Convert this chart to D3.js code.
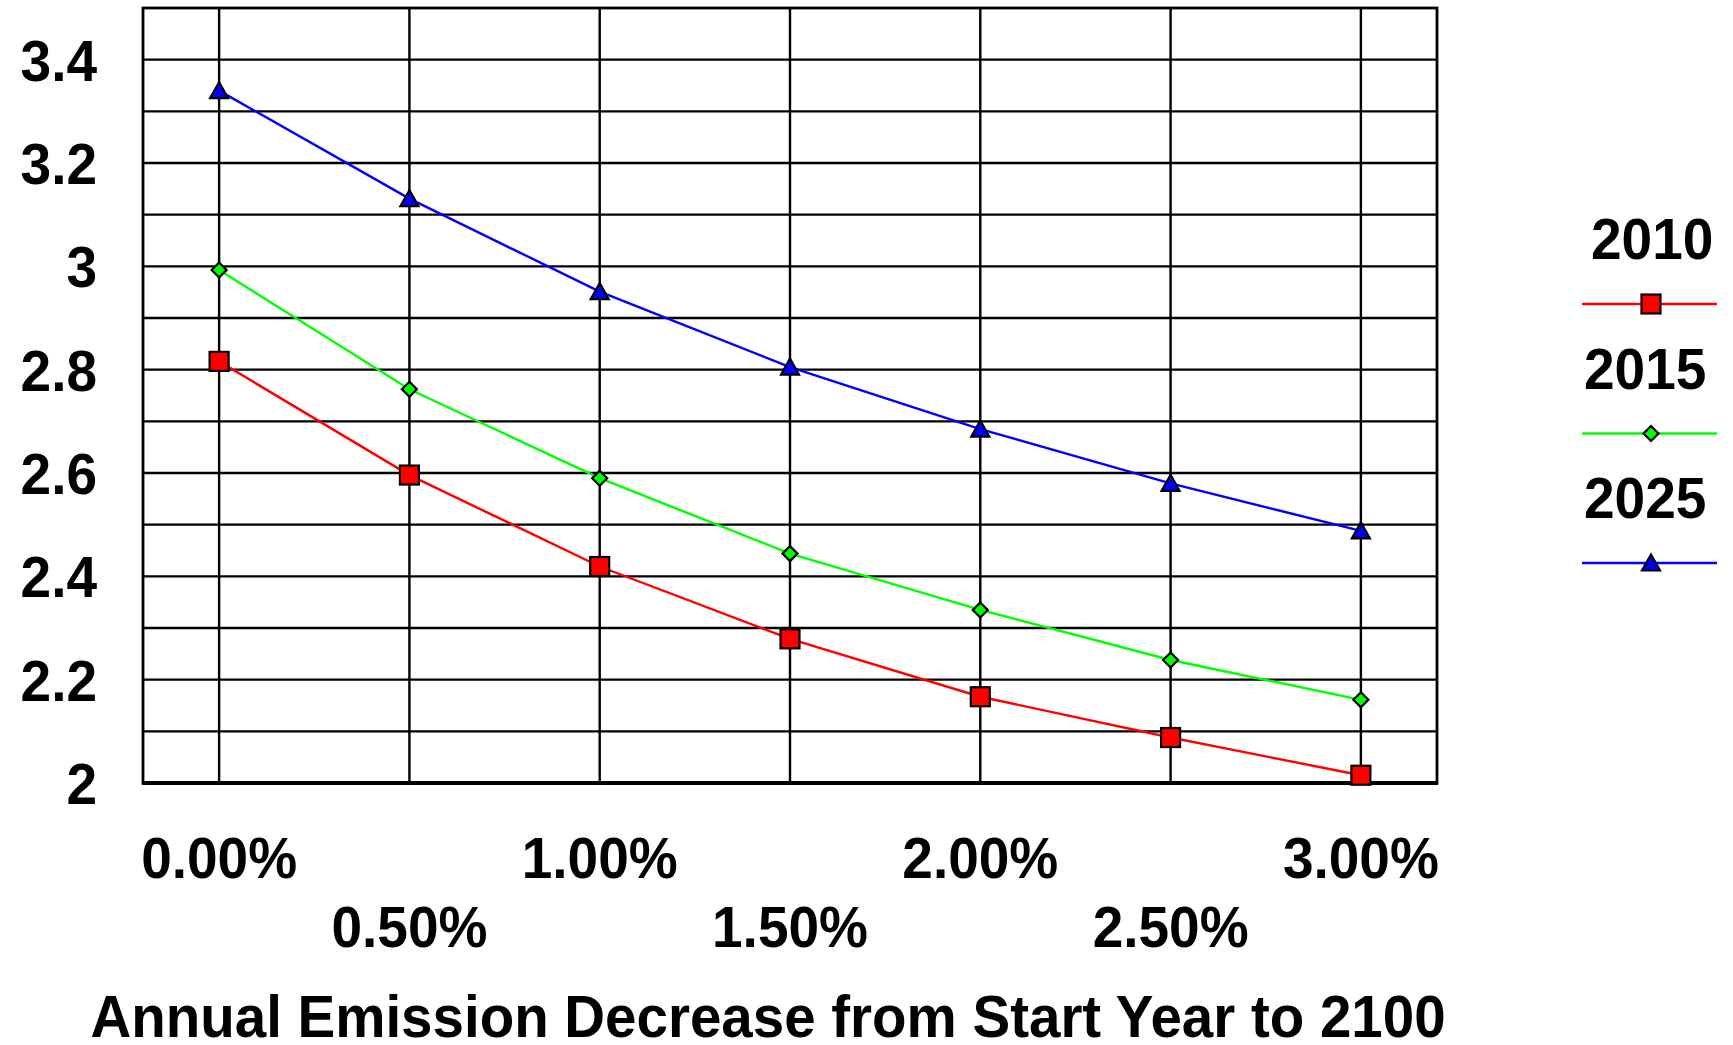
<meta charset="utf-8">
<style>
body { margin: 0; background: #fff; }
text { font-family: "Liberation Sans", Arial, sans-serif; font-weight: bold; fill: #000; }
.grid { stroke: #000; stroke-width: 2.4px; }
.line { fill: none; stroke-width: 2.4px; }
</style>
<body>
<script src="https://d3js.org/d3.v7.js"></script>
<script>
// rates of annual emission decrease (%)
var rates = [0, 0.5, 1, 1.5, 2, 2.5, 3];
var rateLabels = ["0.00%", "0.50%", "1.00%", "1.50%", "2.00%", "2.50%", "3.00%"];
var yTicks = [2, 2.2, 2.4, 2.6, 2.8, 3, 3.2, 3.4];

var s2010 = [2.816, 2.596, 2.419, 2.279, 2.167, 2.088, 2.015];
var s2015 = [2.993, 2.762, 2.590, 2.444, 2.335, 2.238, 2.161];
var s2025 = [3.340, 3.131, 2.951, 2.805, 2.685, 2.580, 2.488];

var seriesNames = ["2010", "2015", "2025"];
var seriesColors = ["#ff0000", "#00ff00", "#0000ff"];
var seriesShapes = ["square", "diamond", "triangle"];
var seriesValues = [s2010, s2015, s2025];

var W = 1733, H = 1045;
var svg = d3.select("body").append("svg")
    .attr("width", W)
    .attr("height", H);

var x = d3.scaleLinear().domain([-0.2, 3.2]).range([143, 1437]);
var y = d3.scaleLinear().domain([2, 3.5]).range([783, 8]);

// text a little taller than wide, like the original
function label(sel, tx, ty, size, anchor, str) {
  return sel.append("text")
      .attr("transform", "translate(" + tx + "," + ty + ") scale(1,1.06)")
      .attr("text-anchor", anchor)
      .style("font-size", size + "px")
      .text(str);
}

// horizontal grid every 0.1
var hLines = d3.range(21, 35).map(function(d) { return d / 10; });
svg.selectAll(".hgrid")
    .data(hLines)
  .enter().append("line")
    .attr("class", "grid")
    .attr("x1", x(-0.2)).attr("x2", x(3.2))
    .attr("y1", function(d) { return y(d); })
    .attr("y2", function(d) { return y(d); });

svg.selectAll(".vgrid")
    .data(rates)
  .enter().append("line")
    .attr("class", "grid")
    .attr("x1", function(d) { return x(d); })
    .attr("x2", function(d) { return x(d); })
    .attr("y1", y(3.5)).attr("y2", y(2));

// frame
svg.append("rect")
    .attr("x", x(-0.2)).attr("y", y(3.5))
    .attr("width", x(3.2) - x(-0.2))
    .attr("height", y(2) - y(3.5))
    .attr("fill", "none")
    .attr("stroke", "#000")
    .attr("stroke-width", 2.8);
svg.append("line")
    .attr("x1", x(-0.2) - 1).attr("x2", x(3.2) + 1)
    .attr("y1", y(2)).attr("y2", y(2))
    .attr("stroke", "#000").attr("stroke-width", 4);

// y labels
yTicks.forEach(function(d) {
  label(svg, 97, y(d) + 21, 55, "end", d3.format("")(+d.toFixed(1)));
});

// x labels, staggered in two rows
rates.forEach(function(d, i) {
  label(svg, x(d), i % 2 === 0 ? 878 : 947, 55, "middle", rateLabels[i]);
});

label(svg, 768, 1037, 56.5, "middle", "Annual Emission Decrease from Start Year to 2100");

function marker(g, shape, color, cx, cy) {
  if (shape === "square") {
    g.append("rect")
      .attr("x", cx - 9.5).attr("y", cy - 9.5)
      .attr("width", 19).attr("height", 19)
      .attr("fill", color).attr("stroke", "#000").attr("stroke-width", 2.2);
  } else if (shape === "diamond") {
    g.append("path")
      .attr("d", "M" + cx + "," + (cy - 7.5) + "L" + (cx + 7.5) + "," + cy +
                 "L" + cx + "," + (cy + 7.5) + "L" + (cx - 7.5) + "," + cy + "Z")
      .attr("fill", color).attr("stroke", "#000").attr("stroke-width", 2.2);
  } else {
    g.append("path")
      .attr("d", "M" + cx + "," + (cy - 8.5) + "L" + (cx + 9) + "," + (cy + 7.5) +
                 "L" + (cx - 9) + "," + (cy + 7.5) + "Z")
      .attr("fill", color).attr("stroke", "#000").attr("stroke-width", 2.2);
  }
}

var line = d3.line()
    .x(function(d, i) { return x(rates[i]); })
    .y(function(d) { return y(d); });

seriesValues.forEach(function(vals, k) {
  var g = svg.append("g");
  g.append("path")
      .datum(vals)
      .attr("class", "line")
      .style("stroke", seriesColors[k])
      .attr("d", line);
  vals.forEach(function(v, i) {
    marker(g, seriesShapes[k], seriesColors[k], x(rates[i]), y(v));
  });
});

// legend
seriesNames.forEach(function(name, k) {
  var ly = 304 + k * 129.5;
  label(svg, k === 0 ? 1591 : 1584, ly - 45, 55, "start", name);
  svg.append("line")
      .attr("x1", 1582).attr("x2", 1717)
      .attr("y1", ly).attr("y2", ly)
      .attr("stroke", seriesColors[k]).attr("stroke-width", 2.4);
  marker(svg, seriesShapes[k], seriesColors[k], 1651, ly);
});
</script>
</body>
